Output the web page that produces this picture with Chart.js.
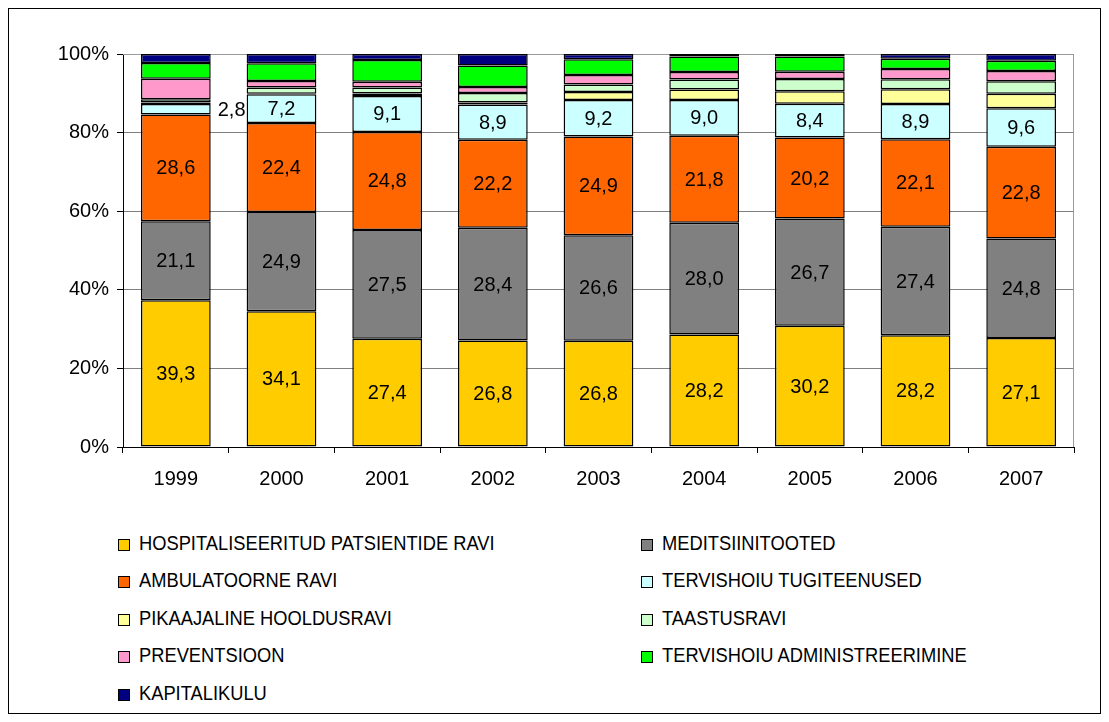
<!DOCTYPE html>
<html>
<head>
<meta charset="utf-8">
<script src="https://cdn.jsdelivr.net/npm/chart.js@4.4.1/dist/chart.umd.min.js"></script>
<style>
  html, body { margin: 0; padding: 0; background: #fff; }
  body { width: 1109px; height: 722px; position: relative; overflow: hidden; font-family: "Liberation Sans", Arial, sans-serif; }
  #frame { position: absolute; left: 8px; top: 8px; width: 1091px; height: 704px; border: 1px solid #000; }
  #wrap { position: absolute; left: 0; top: 0; width: 1109px; height: 500px; }
  .leg { position: absolute; height: 20px; white-space: nowrap; }
  .leg .box { position: absolute; left: 0; top: 3px; width: 10px; height: 10px; border: 1.5px solid #000; }
  .leg .txt { position: absolute; left: 21px; top: -4px; font-size: 20px; line-height: 22px; color: #000; transform: scaleX(0.915); transform-origin: left center; }
</style>
</head>
<body>
<div id="frame"></div>
<div id="wrap"><canvas id="kulud"></canvas></div>
<div id="legend"></div>
<script>
const years = ['1999', '2000', '2001', '2002', '2003', '2004', '2005', '2006', '2007'];

// raw values per year; bars are drawn as shares of each year's total
const hospitaliseeritud = [39.3, 34.1, 27.4, 26.8, 26.8, 28.2, 30.2, 28.2, 27.1];
const meditsiinitooted  = [21.1, 24.9, 27.5, 28.4, 26.6, 28.0, 26.7, 27.4, 24.8];
const ambulatoorne      = [28.6, 22.4, 24.8, 22.2, 24.9, 21.8, 20.2, 22.1, 22.8];
const tugiteenused      = [2.8, 7.2, 9.1, 8.9, 9.2, 9.0, 8.4, 8.9, 9.6];
const pikaajaline       = [0.4, 0.1, 0.6, 0.5, 2.0, 2.6, 3.1, 3.7, 3.6];
const taastusravi       = [0.9, 1.6, 1.5, 2.4, 1.9, 2.5, 3.1, 2.5, 3.1];
const preventsioon      = [5.5, 1.6, 1.5, 1.5, 2.4, 1.9, 1.8, 2.6, 2.6];
const administreerimine = [4.2, 4.5, 5.5, 5.4, 4.0, 3.9, 3.8, 2.6, 2.5];
const kapitalikulu      = [2.4, 2.3, 1.5, 2.9, 1.3, 0.6, 0.6, 1.2, 1.7];

const series = [
  { label: 'HOSPITALISEERITUD PATSIENTIDE RAVI', values: hospitaliseeritud, color: '#FFCC00', labelled: true },
  { label: 'MEDITSIINITOOTED', values: meditsiinitooted, color: '#808080', labelled: true },
  { label: 'AMBULATOORNE RAVI', values: ambulatoorne, color: '#FF6600', labelled: true },
  { label: 'TERVISHOIU TUGITEENUSED', values: tugiteenused, color: '#CCFFFF', labelled: true },
  { label: 'PIKAAJALINE HOOLDUSRAVI', values: pikaajaline, color: '#FFFF99', labelled: false },
  { label: 'TAASTUSRAVI', values: taastusravi, color: '#CCFFCC', labelled: false },
  { label: 'PREVENTSIOON', values: preventsioon, color: '#FF99CC', labelled: false },
  { label: 'TERVISHOIU ADMINISTREERIMINE', values: administreerimine, color: '#00FF00', labelled: false },
  { label: 'KAPITALIKULU', values: kapitalikulu, color: '#000080', labelled: false },
];

const totals = years.map((_, i) => series.reduce((s, d) => s + d.values[i], 0));

Chart.defaults.font.family = '"Liberation Sans", Arial, sans-serif';
Chart.defaults.font.size = 20;
Chart.defaults.color = '#000';

const fmt = v => v.toFixed(1).replace('.', ',');

// value labels inside the segments; too-thin segments get the label beside the bar
const segmentLabels = {
  id: 'segmentLabels',
  afterDatasetsDraw(chart) {
    const ctx = chart.ctx;
    ctx.save();
    ctx.font = '20px "Liberation Sans", Arial, sans-serif';
    ctx.fillStyle = '#000';
    ctx.textBaseline = 'middle';
    chart.data.datasets.forEach((ds, di) => {
      if (!series[di].labelled) return;
      chart.getDatasetMeta(di).data.forEach((bar, i) => {
        const h = Math.abs(bar.base - bar.y);
        const cy = (bar.y + bar.base) / 2 + 1;
        const txt = fmt(series[di].values[i]);
        if (h < 18) {
          ctx.textAlign = 'left';
          ctx.fillText(txt, bar.x + bar.width / 2 + 7, cy);
        } else {
          ctx.textAlign = 'center';
          ctx.fillText(txt, bar.x, cy);
        }
      });
    });
    ctx.restore();
  }
};

// grey plot-area frame (top and right edges)
const plotFrame = {
  id: 'plotFrame',
  beforeDatasetsDraw(chart) {
    const a = chart.chartArea;
    const ctx = chart.ctx;
    ctx.save();
    ctx.strokeStyle = '#9a9a9a';
    ctx.lineWidth = 1;
    ctx.beginPath();
    ctx.moveTo(a.left, a.top + 0.5);
    ctx.lineTo(a.right - 0.5, a.top + 0.5);
    ctx.lineTo(a.right - 0.5, a.bottom);
    ctx.stroke();
    ctx.restore();
  }
};

const chart = new Chart(document.getElementById('kulud'), {
  type: 'bar',
  data: {
    labels: years,
    datasets: series.map(s => ({
      label: s.label,
      data: s.values.map((v, i) => v / totals[i] * 100),
      backgroundColor: s.color,
      borderColor: '#000',
      borderWidth: 1.5,
      borderSkipped: false,
      barPercentage: 0.66,
      categoryPercentage: 1.0,
    }))
  },
  options: {
    responsive: true,
    maintainAspectRatio: false,
    animation: false,
    layout: { padding: { left: 20, right: 35, top: 54, bottom: 0 } },
    plugins: { legend: { display: false }, tooltip: { enabled: false } },
    scales: {
      x: {
        stacked: true,
        grid: { display: true, drawOnChartArea: false, drawTicks: true, tickLength: 6, tickColor: '#000', offset: true },
        border: { color: '#000', width: 1 },
        ticks: { padding: 14, font: { size: 20 } },
        afterFit: s => { s.height = 53; }
      },
      y: {
        stacked: true,
        min: 0,
        max: 100,
        grid: { color: '#808080', tickColor: '#000', tickLength: 6 },
        border: { color: '#000', width: 1 },
        ticks: { stepSize: 20, padding: 8, font: { size: 20 }, callback: v => v + '%' },
        afterFit: s => { s.width = 103; }
      }
    }
  },
  plugins: [plotFrame, segmentLabels]
});

// two-column legend under the plot
const legendEl = document.getElementById('legend');
chart.data.datasets.forEach((ds, i) => {
  const col = i % 2, row = Math.floor(i / 2);
  const item = document.createElement('div');
  item.className = 'leg';
  item.style.left = (col ? 641 : 118) + 'px';
  item.style.top = (536 + row * 37.4) + 'px';
  item.innerHTML = '<span class="box"></span><span class="txt"></span>';
  item.querySelector('.box').style.background = ds.backgroundColor;
  item.querySelector('.txt').textContent = ds.label;
  legendEl.appendChild(item);
});
</script>
</body>
</html>
